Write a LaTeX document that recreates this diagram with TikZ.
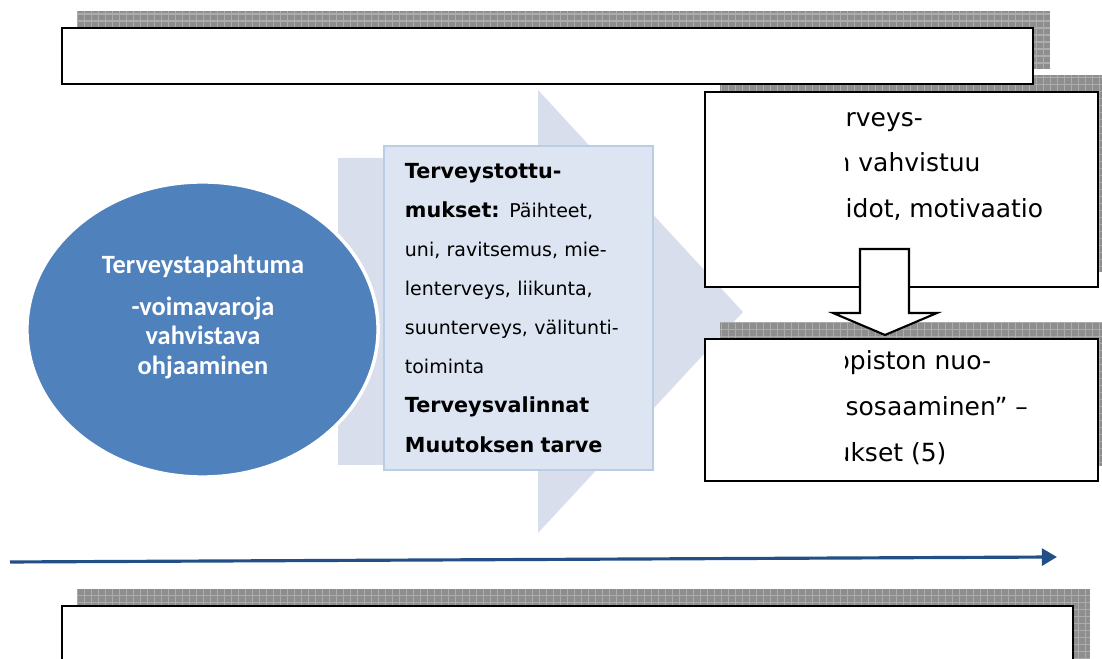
\documentclass[tikz,border=0pt]{standalone}
\usepackage{fontspec}
\setmainfont{DejaVu Sans}
\newfontfamily\calfont{Carlito}
\usepackage{tikz}
\usetikzlibrary{arrows.meta, positioning, shapes.geometric, backgrounds}

\definecolor{evtblue}{RGB}{79,129,189}
\definecolor{chevfill}{RGB}{216,222,236}
\definecolor{habfill}{RGB}{220,229,241}
\definecolor{habline}{RGB}{185,205,229}
\definecolor{shadowgray}{RGB}{142,142,142}
\definecolor{gridgray}{RGB}{172,172,172}
\definecolor{lineblue}{RGB}{33,79,134}

% gray checkered shadow behind a framed box
\newcommand{\boxshadow}[1]{%
  \fill[shadowgray] ([shift={(16,-16)}]#1.south west) rectangle ([shift={(16,-16)}]#1.north east);
  \begin{scope}
    \clip ([shift={(16,-16)}]#1.south west) rectangle ([shift={(16,-16)}]#1.north east);
    \draw[gridgray, line width=0.3pt, step=0.07cm]
      ([shift={(16,-16)}]#1.south west) grid ([shift={(16,-16)}]#1.north east);
  \end{scope}}
\newcommand{\hb}[1]{{\fontsize{5.9}{11.1}\selectfont\bfseries #1}}

\begin{document}
\begin{tikzpicture}[
  x=0.01cm, y=-0.01cm,
  frame/.style={draw=black, line width=0.6pt, fill=white, rectangle, inner sep=0pt},
  rtxt/.style={anchor=base west, inner sep=0pt, font=\fontsize{7.1}{8}\selectfont},
  evt/.style={ellipse, fill=evtblue, draw=white, line width=1pt,
              minimum width=3.51cm, minimum height=2.95cm},
  evttxt/.style={text=white, align=center, inner sep=0pt,
                 font=\calfont\bfseries\fontsize{7.5}{8.4}\selectfont},
  habits/.style={rectangle, fill=habfill, draw=habline, line width=0.6pt,
                 text width=2.27cm, inner xsep=0.21cm, minimum height=3.24cm,
                 align=left, font=\fontsize{5.4}{11.1}\selectfont},
  timeline/.style={lineblue, line width=0.9pt,
                   -{Triangle[length=4.3pt, width=4.8pt]}}]

  \useasboundingbox (0,0) rectangle (1102,659);

  % Framed boxes
  \node[frame, minimum width=9.71cm, minimum height=0.56cm] (topbox) at (547.5,56) {};
  \node[frame, minimum width=3.93cm, minimum height=1.95cm] (tbox1) at (901.5,189.5) {};
  \node[frame, minimum width=3.93cm, minimum height=1.42cm, below=0.5cm of tbox1] (tbox2) {};
  \node[frame, minimum width=10.11cm, minimum height=0.94cm] (botbox) at (567.5,653) {};

  % Big pale chevron and the shadows go behind
  \begin{pgfonlayer}{background}
    \fill[chevfill] (338,158) -- (538,158) -- (538,90) -- (743,312)
      -- (538,533) -- (538,465) -- (338,465) -- cycle;
    \boxshadow{topbox}
    \boxshadow{tbox1}
    \boxshadow{tbox2}
    \boxshadow{botbox}
  \end{pgfonlayer}

  % Event circle
  \node[evt] (event) at (202.5,329.5) {};
  \node[evttxt] (evtlbl) at (203,317) {Terveystapahtuma\\[3.3pt]-voimavaroja\\vahvistava\\ohjaaminen};

  % Habits box
  \node[habits] (habbox) at (518.5,308) {%
    \hb{Terveystottu-}\\
    \hb{mukset:} Päihteet,\\
    uni, ravitsemus, mie-\\
    lenterveys, liikunta,\\
    suunterveys, välitunti-\\
    toiminta\\
    \hb{Terveysvalinnat}\\
    \hb{Muutoksen tarve}};

  % Texts in the right boxes (left part hidden)
  \begin{scope}
    \clip (845,92) rectangle (1097,287);
    \node[rtxt] (u1) at (845,127) {rveys-};
    \node[rtxt] (u2) at (834,172) {n vahvistuu};
    \node[rtxt] (u3) at (845,218) {idot, motivaatio};
  \end{scope}
  \begin{scope}
    \clip (845,337) rectangle (1097,479);
    \node[rtxt] (l1) at (834,370) {opiston nuo-};
    \node[rtxt] (l2) at (845,416) {sosaaminen” –};
    \node[rtxt] (l3) at (834,462) {ukset (5)};
  \end{scope}

  % Block arrow between the right boxes
  \draw[fill=white, line width=0.6pt] (860,249) -- (909,249) -- (909,313) -- (937,313)
    -- (885,335) -- (833,313) -- (860,313) -- cycle;

  % Time line
  \coordinate (tstart) at (10,562);
  \coordinate (tend) at (1057,557);
  \draw[timeline] (tstart) -- (tend);

\end{tikzpicture}
\end{document}
